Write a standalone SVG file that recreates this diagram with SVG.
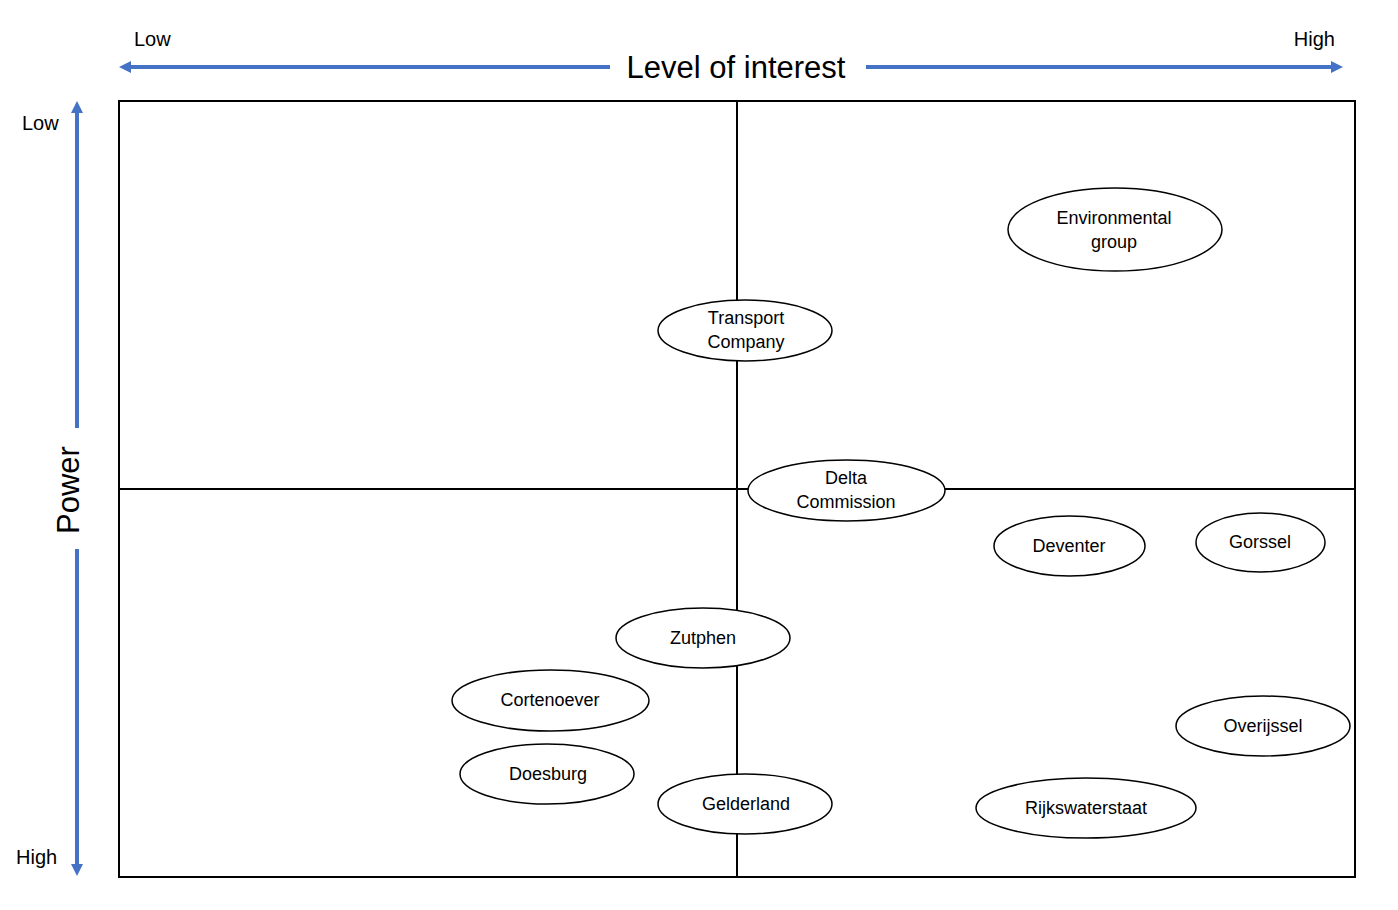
<svg xmlns="http://www.w3.org/2000/svg" width="1398" height="910" viewBox="0 0 1398 910">
<style>
text{font-family:"Liberation Sans",Arial,sans-serif;fill:#000}
.lbl{font-size:18px;text-anchor:middle;dominant-baseline:central}
.ax{font-size:20px}
.title{font-size:31px}
.node ellipse{fill:#fff;stroke:#000;stroke-width:1.5}
.grid{fill:none;stroke:#000;stroke-width:2}
.arr{stroke:#4472C4;stroke-width:4;fill:none}
</style>
<defs>
<marker id="ah" viewBox="0 0 12 12" markerWidth="12" markerHeight="12" refX="0" refY="6" orient="auto-start-reverse" markerUnits="userSpaceOnUse">
<path d="M0,0 L12,6 L0,12 z" fill="#4472C4"/>
</marker>
</defs>
<rect fill="#fff" width="1398" height="910"/>
<g id="axes">
<line class="arr" x1="131" y1="67" x2="610" y2="67" marker-start="url(#ah)"/>
<line class="arr" x1="866" y1="67" x2="1331" y2="67" marker-end="url(#ah)"/>
<line class="arr" x1="77" y1="113" x2="77" y2="428" marker-start="url(#ah)"/>
<line class="arr" x1="77" y1="549" x2="77" y2="864" marker-end="url(#ah)"/>
<text class="title" x="736" y="78" text-anchor="middle">Level of interest</text>
<text class="title" transform="translate(79,490) rotate(-90)" text-anchor="middle">Power</text>
<text class="ax" x="134" y="46">Low</text>
<text class="ax" x="1335" y="46" text-anchor="end">High</text>
<text class="ax" x="22" y="130">Low</text>
<text class="ax" x="16" y="864">High</text>
</g>
<g id="grid">
<rect class="grid" x="119" y="101" width="1236" height="776"/>
<line class="grid" x1="737" y1="101" x2="737" y2="877"/>
<line class="grid" x1="119" y1="489" x2="1355" y2="489"/>
</g>
<g id="connectors"></g>
<g id="environmental-group" class="node"><ellipse cx="1115" cy="229.5" rx="107" ry="41.5"/><text class="lbl" x="1114" y="218">Environmental</text><text class="lbl" x="1114" y="242">group</text></g>
<g id="transport-company" class="node"><ellipse cx="745" cy="330.5" rx="87" ry="30.5"/><text class="lbl" x="746" y="318">Transport</text><text class="lbl" x="746" y="342">Company</text></g>
<g id="delta-commission" class="node"><ellipse cx="846.5" cy="490.5" rx="98.5" ry="30.5"/><text class="lbl" x="846" y="478">Delta</text><text class="lbl" x="846" y="502">Commission</text></g>
<g id="deventer" class="node"><ellipse cx="1069.5" cy="546" rx="75.5" ry="30"/><text class="lbl" x="1069" y="546">Deventer</text></g>
<g id="gorssel" class="node"><ellipse cx="1260.5" cy="542.5" rx="64.5" ry="29.5"/><text class="lbl" x="1260" y="542">Gorssel</text></g>
<g id="zutphen" class="node"><ellipse cx="703" cy="638" rx="87" ry="30"/><text class="lbl" x="703" y="638">Zutphen</text></g>
<g id="cortenoever" class="node"><ellipse cx="550.5" cy="700.5" rx="98.5" ry="30.5"/><text class="lbl" x="550" y="700">Cortenoever</text></g>
<g id="doesburg" class="node"><ellipse cx="547" cy="774" rx="87" ry="30"/><text class="lbl" x="548" y="774">Doesburg</text></g>
<g id="gelderland" class="node"><ellipse cx="745" cy="804" rx="87" ry="30"/><text class="lbl" x="746" y="804">Gelderland</text></g>
<g id="overijssel" class="node"><ellipse cx="1263" cy="726" rx="87" ry="30"/><text class="lbl" x="1263" y="726">Overijssel</text></g>
<g id="rijkswaterstaat" class="node"><ellipse cx="1086" cy="808" rx="110" ry="30"/><text class="lbl" x="1086" y="808">Rijkswaterstaat</text></g>
</svg>
